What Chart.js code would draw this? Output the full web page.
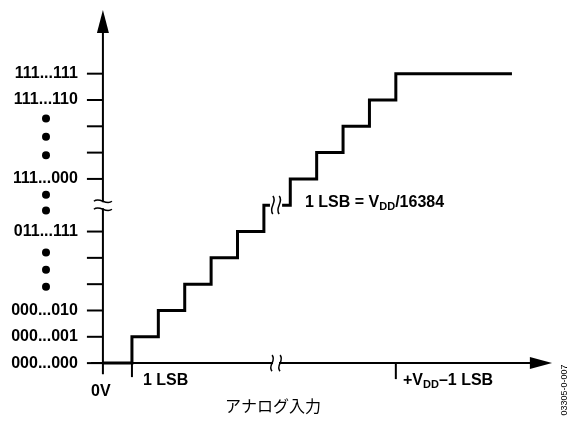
<!DOCTYPE html>
<html>
<head>
<meta charset="utf-8">
<script src="https://cdn.jsdelivr.net/npm/chart.js@4.4.0/dist/chart.umd.min.js"></script>
<style>
  html, body { margin: 0; padding: 0; background: #fff; }
</style>
</head>
<body>
<canvas id="grafico" width="570" height="421"></canvas>
<script>
// función de transferencia: entrada analógica (en LSB) -> código de salida
const entradaLSB   = [-0.1, 1, 2, 3, 4, 5, 6, 6.23, 6.46, 6.69, 7, 8, 9, 10, 11, 15.4];
const codigoSalida = [0,    1, 2, 3, 4, 5, 6, 6,    null, 6,    7, 8, 9, 10, 11, 11];

// eje Y: marcas y etiquetas
const marcasY    = [0, 1, 2, 3, 4, 5, 7, 8, 9, 10, 11];
const etiquetasY = ["000...000", "000...001", "000...010", "", "", "011...111",
                    "111...000", "", "", "111...110", "111...111"];
const puntosY = [9.3, 8.6, 7.9, 6.4, 5.8, 4.2, 3.55, 2.9];

// eje X: marcas
const marcasX = [1, 11];
const corteX = 6.46;   // corte del eje X
const corteY = 6;      // corte del eje Y

const negro = "#000";
const fuente = "bold 16px 'Liberation Sans', Arial, sans-serif";
const fuenteSub = "bold 11px 'Liberation Sans', Arial, sans-serif";

function ondaV(ctx, x, y1, y2) {
  const h = y2 - y1;
  ctx.beginPath();
  ctx.moveTo(x, y1);
  ctx.bezierCurveTo(x + 5, y1 + h / 3, x - 5, y1 + 2 * h / 3, x, y2);
  ctx.stroke();
}

function ondaH(ctx, x1, x2, y) {
  const w = x2 - x1;
  ctx.beginPath();
  ctx.moveTo(x1, y);
  ctx.bezierCurveTo(x1 + w / 3, y - 5, x1 + 2 * w / 3, y + 5, x2, y);
  ctx.stroke();
}

function textoSub(ctx, partes, x, y) {
  // partes: [texto, esSubindice]
  let cx = x;
  partes.forEach(([t, sub]) => {
    ctx.font = sub ? fuenteSub : fuente;
    ctx.fillText(t, cx, sub ? y + 4 : y);
    cx += ctx.measureText(t).width;
  });
}

const ejes = {
  id: "ejes",
  beforeDatasetsDraw(chart) {
    const ctx = chart.ctx;
    const sx = chart.scales.x, sy = chart.scales.y;
    const ax = sx.getPixelForValue(-0.1);
    const ay = sy.getPixelForValue(0);
    ctx.save();
    ctx.strokeStyle = negro;
    ctx.fillStyle = negro;
    ctx.lineWidth = 2;

    // eje Y
    ctx.beginPath();
    ctx.moveTo(ax, sy.getPixelForValue(-0.42));
    ctx.lineTo(ax, sy.getPixelForValue(12.6));
    ctx.stroke();
    ctx.beginPath();
    ctx.moveTo(ax, sy.getPixelForValue(13.42));
    ctx.lineTo(ax - 6, sy.getPixelForValue(12.55));
    ctx.lineTo(ax + 6, sy.getPixelForValue(12.55));
    ctx.closePath();
    ctx.fill();

    // eje X
    ctx.beginPath();
    ctx.moveTo(sx.getPixelForValue(-0.55), ay);
    ctx.lineTo(sx.getPixelForValue(16.2), ay);
    ctx.stroke();
    ctx.beginPath();
    ctx.moveTo(sx.getPixelForValue(16.92), ay);
    ctx.lineTo(sx.getPixelForValue(16.08), ay - 6);
    ctx.lineTo(sx.getPixelForValue(16.08), ay + 6);
    ctx.closePath();
    ctx.fill();

    // marcas Y y etiquetas
    ctx.font = fuente;
    ctx.textAlign = "right";
    ctx.textBaseline = "middle";
    marcasY.forEach((v, i) => {
      const py = sy.getPixelForValue(v);
      ctx.beginPath();
      ctx.moveTo(ax - 16, py);
      ctx.lineTo(ax, py);
      ctx.stroke();
      if (etiquetasY[i]) ctx.fillText(etiquetasY[i], ax - 25, py);
    });
    puntosY.forEach(v => {
      ctx.beginPath();
      ctx.arc(46, sy.getPixelForValue(v), 4, 0, Math.PI * 2);
      ctx.fill();
    });

    // marcas X
    marcasX.forEach((v, i) => {
      const px = sx.getPixelForValue(v);
      ctx.beginPath();
      ctx.moveTo(px, ay);
      ctx.lineTo(px, ay + (i === 0 ? 14 : 16));
      ctx.stroke();
    });

    // corte eje Y
    const cy = sy.getPixelForValue(corteY);
    ctx.fillStyle = "#fff";
    ctx.fillRect(ax - 3, cy - 3, 6, 6);
    ctx.lineWidth = 1.5;
    ondaH(ctx, ax - 9, ax + 9, cy - 4);
    ondaH(ctx, ax - 9, ax + 9, cy + 4);

    // corte eje X
    const cx = sx.getPixelForValue(corteX);
    ctx.fillRect(cx - 3, ay - 3, 6, 6);
    ondaV(ctx, cx - 4, ay - 8, ay + 8);
    ondaV(ctx, cx + 4, ay - 8, ay + 8);

    // textos
    ctx.fillStyle = negro;
    ctx.textAlign = "left";
    ctx.font = fuente;
    ctx.fillText("0V", 91, 392);
    ctx.fillText("1 LSB", 143, 381);
    textoSub(ctx, [["+V", false], ["DD", true], ["\u20131 LSB", false]], 403, 381);
    textoSub(ctx, [["1 LSB = V", false], ["DD", true], ["/16384", false]], 305, 203);

    ctx.font = "16px 'Noto Sans CJK JP', sans-serif";
    ctx.fillText("アナログ入力", 225, 406);

    ctx.save();
    ctx.translate(565, 390);
    ctx.rotate(-Math.PI / 2);
    ctx.textAlign = "center";
    ctx.font = "9px 'Liberation Sans', Arial, sans-serif";
    ctx.fillText("03305-0-007", 0, 0);
    ctx.restore();

    ctx.restore();
  },
  afterDatasetsDraw(chart) {
    const ctx = chart.ctx;
    const sx = chart.scales.x, sy = chart.scales.y;
    ctx.save();
    ctx.strokeStyle = negro;
    ctx.lineWidth = 1.5;
    const y1 = sy.getPixelForValue(corteY + 0.35);
    const y2 = sy.getPixelForValue(corteY - 0.33);
    ondaV(ctx, sx.getPixelForValue(corteX - 0.12), y1, y2);
    ondaV(ctx, sx.getPixelForValue(corteX + 0.12), y1, y2);
    ctx.restore();
  }
};

new Chart(document.getElementById("grafico"), {
  type: "line",
  data: {
    datasets: [{
      data: entradaLSB.map((x, i) => ({ x: x, y: codigoSalida[i] })),
      borderColor: negro,
      borderWidth: 3,
      pointRadius: 0,
      stepped: true,
      spanGaps: false,
      fill: false
    }]
  },
  options: {
    responsive: false,
    animation: false,
    layout: { padding: 0 },
    scales: {
      x: { type: "linear", min: -4, max: 17.6, display: false },
      y: { type: "linear", min: -2.2, max: 13.8, display: false }
    },
    plugins: {
      legend: { display: false },
      tooltip: { enabled: false }
    }
  },
  plugins: [ejes]
});
</script>
</body>
</html>
